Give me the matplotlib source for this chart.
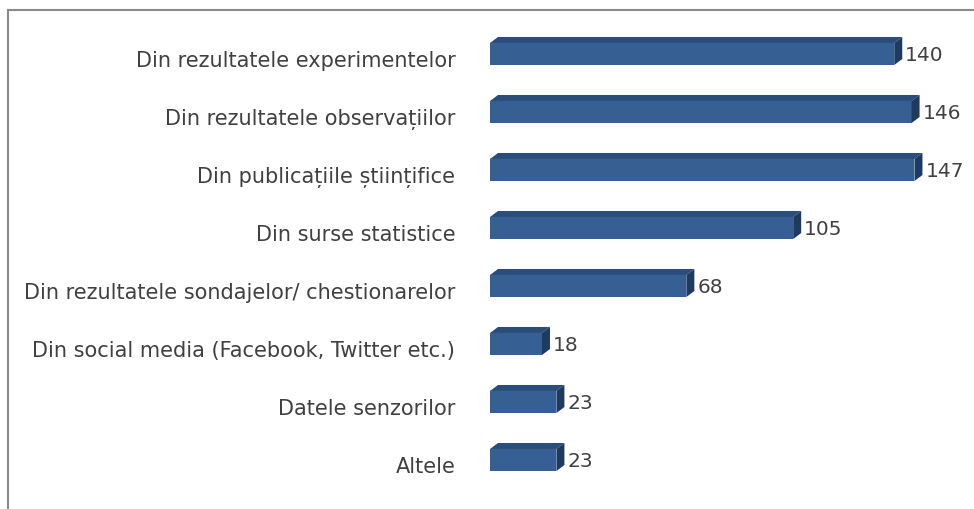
import matplotlib.pyplot as plt
import matplotlib.transforms as mtransforms
from matplotlib.patches import Polygon
from matplotlib.lines import Line2D

categorii = ['Din rezultatele experimentelor', 'Din rezultatele observațiilor',
             'Din publicațiile științifice', 'Din surse statistice',
             'Din rezultatele sondajelor/ chestionarelor',
             'Din social media (Facebook, Twitter etc.)', 'Datele senzorilor', 'Altele']
valori = [140, 146, 147, 105, 68, 18, 23, 23]

W, H = 974, 509
fig = plt.figure(figsize=(W / 100, H / 100), dpi=100)
ax = fig.add_axes([490 / W, 1 - 489 / H, (952 - 490) / W, (489 - 25) / H])

xmax = 160
ax.set_xlim(0, xmax)
ax.set_ylim(7.5, -0.5)

# adancime 3D in pixeli -> unitati de date
px_x = xmax / (952 - 490)
px_y = 8 / (489 - 25)
dx, dy = 8 * px_x, 6 * px_y
h = 0.38

front = '#365F93'
top = '#2B4D7B'
side = '#1F3A5F'

for i, v in enumerate(valori):
    ax.barh(i, v, height=h, color=front, edgecolor='none', zorder=3)
    y0, y1 = i - h / 2, i + h / 2
    ax.add_patch(Polygon([(0, y0), (dx, y0 - dy), (v + dx, y0 - dy), (v, y0)],
                         closed=True, facecolor=top, edgecolor='none', zorder=3))
    ax.add_patch(Polygon([(v, y0), (v + dx, y0 - dy), (v + dx, y1 - dy), (v, y1)],
                         closed=True, facecolor=side, edgecolor='none', zorder=3))
    ax.text(v + dx + 1.0, i + 0.03, str(v), va='center', ha='left',
            fontsize=14.5, color='#404040')

ax.set_yticks(range(len(categorii)))
ax.set_yticklabels(categorii, fontsize=15, color='#404040')
ax.tick_params(axis='y', length=0, pad=25)
shift = mtransforms.ScaledTranslation(0, -5 / 100, fig.dpi_scale_trans)
for lab in ax.get_yticklabels():
    lab.set_transform(lab.get_transform() + shift)
ax.set_xticks([])
for s in ax.spines.values():
    s.set_visible(False)

# chenarul graficului
fig.add_artist(Line2D([8 / W, 8 / W], [0, 1 - 10 / H], color='#8a8a8a', lw=1.5))
fig.add_artist(Line2D([8 / W, 1], [1 - 10 / H, 1 - 10 / H], color='#8a8a8a', lw=1.5))

fig.savefig('out.png', dpi=100)
